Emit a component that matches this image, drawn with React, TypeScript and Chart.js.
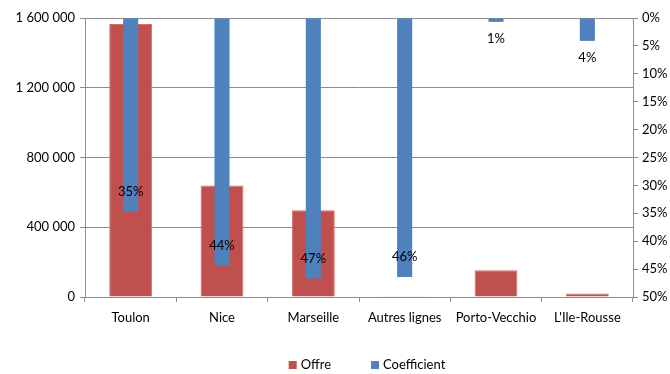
import React, { useEffect, useRef } from "react";
import { Chart, registerables } from "chart.js";

Chart.register(...registerables);

const categories = ["Toulon", "Nice", "Marseille", "Autres lignes", "Porto-Vecchio", "L'Ile-Rousse"];
const offreValues = [1566000, 640000, 497000, 5000, 154000, 20000];
const coefficientValues = [34.7, 44.4, 46.7, 46.4, 0.7, 4.1];
const leftTicks = [0, 400000, 800000, 1200000, 1600000];
const rightTicks = [0, 5, 10, 15, 20, 25, 30, 35, 40, 45, 50];
const seriesNames = ["Offre", "Coefficient"];
const seriesColors = ["#C0504D", "#4F81BD"];

const FONT = "Lato";
const GRID = "#8c8c8c";

function fmtThousands(v: number): string {
  return String(Math.round(v)).replace(/\B(?=(\d{3})+(?!\d))/g, " ");
}

const labelPlugin = {
  id: "coefLabels",
  afterDatasetsDraw(chart: any) {
    const ctx = chart.ctx;
    const meta = chart.getDatasetMeta(1);
    ctx.save();
    ctx.font = `13px ${FONT}`;
    ctx.fillStyle = "#000";
    ctx.textAlign = "center";
    ctx.textBaseline = "middle";
    meta.data.forEach((el: any, i: number) => {
      const len = el.y - el.base;
      const y = len > 30 ? el.y - 20 : el.y + 17;
      ctx.fillText(Math.round(coefficientValues[i]) + "%", el.x, y);
    });
    ctx.restore();
  },
};

const legendPlugin = {
  id: "customLegend",
  afterDraw(chart: any) {
    const ctx = chart.ctx;
    ctx.save();
    ctx.font = `13px ${FONT}`;
    ctx.textBaseline = "middle";
    ctx.textAlign = "left";
    const box = 8;
    const gapText = 4;
    const gapItem = 40;
    const widths = seriesNames.map((n) => ctx.measureText(n).width);
    const total = widths.reduce((a, w) => a + box + gapText + w, 0) + gapItem * (seriesNames.length - 1);
    const cx = (chart.chartArea.left + chart.chartArea.right) / 2 + 8;
    let x = cx - total / 2;
    const y = 365;
    seriesNames.forEach((n, i) => {
      ctx.fillStyle = seriesColors[i];
      ctx.fillRect(x, y - box / 2, box, box);
      ctx.fillStyle = "#000";
      ctx.fillText(n, x + box + gapText, y);
      x += box + gapText + widths[i] + gapItem;
    });
    ctx.restore();
  },
};

export default function App() {
  const ref = useRef<HTMLCanvasElement | null>(null);
  useEffect(() => {
    document.body.style.margin = "0";
    const chart = new Chart(ref.current as HTMLCanvasElement, {
      type: "bar",
      data: {
        labels: categories,
        datasets: [
          {
            label: seriesNames[0],
            data: offreValues,
            backgroundColor: seriesColors[0],
            borderColor: "#D46F6C",
            borderWidth: { top: 1, left: 1, right: 1, bottom: 0 } as any,
            yAxisID: "y",
            grouped: false,
            barPercentage: 0.47,
            categoryPercentage: 1,
            order: 2,
          },
          {
            label: seriesNames[1],
            data: coefficientValues,
            backgroundColor: seriesColors[1],
            yAxisID: "y1",
            grouped: false,
            barPercentage: 0.165,
            categoryPercentage: 1,
            order: 1,
          },
        ],
      },
      options: {
        animation: false,
        responsive: true,
        maintainAspectRatio: false,
        layout: { padding: { top: 18, left: 0, right: 0, bottom: 44 } },
        plugins: {
          tooltip: { enabled: false },
          legend: { display: false },
        },
        scales: {
          x: {
            grid: {
              display: true,
              drawOnChartArea: false,
              tickLength: 5,
              color: GRID,
              offset: true,
            },
            border: { color: GRID },
            ticks: {
              font: { family: FONT, size: 13 },
              color: "#000",
              padding: 8,
              maxRotation: 0,
              autoSkip: false,
            },
            afterFit: (s: any) => {
              s.height = 33;
            },
          },
          y: {
            position: "left",
            min: 0,
            max: 1600000,
            afterBuildTicks: (s: any) => {
              s.ticks = leftTicks.map((v) => ({ value: v }));
            },
            grid: { color: GRID, tickLength: 5 },
            border: { color: GRID },
            ticks: {
              font: { family: FONT, size: 13 },
              color: "#000",
              padding: 5,
              callback: (v: any) => fmtThousands(Number(v)),
            },
            afterFit: (s: any) => {
              s.width = 85;
            },
          },
          y1: {
            position: "right",
            reverse: true,
            min: 0,
            max: 50,
            afterBuildTicks: (s: any) => {
              s.ticks = rightTicks.map((v) => ({ value: v }));
            },
            grid: { drawOnChartArea: false, color: GRID, tickLength: 5 },
            border: { color: GRID },
            ticks: {
              font: { family: FONT, size: 13 },
              color: "#000",
              padding: 4,
              callback: (v: any) => v + "%",
            },
            afterFit: (s: any) => {
              s.width = 37;
            },
          },
        },
      },
      plugins: [labelPlugin, legendPlugin],
    });
    return () => chart.destroy();
  }, []);
  return (
    <div style={{ position: "absolute", left: 0, top: 0, width: 670, height: 374 }}>
      <canvas ref={ref} />
    </div>
  );
}
